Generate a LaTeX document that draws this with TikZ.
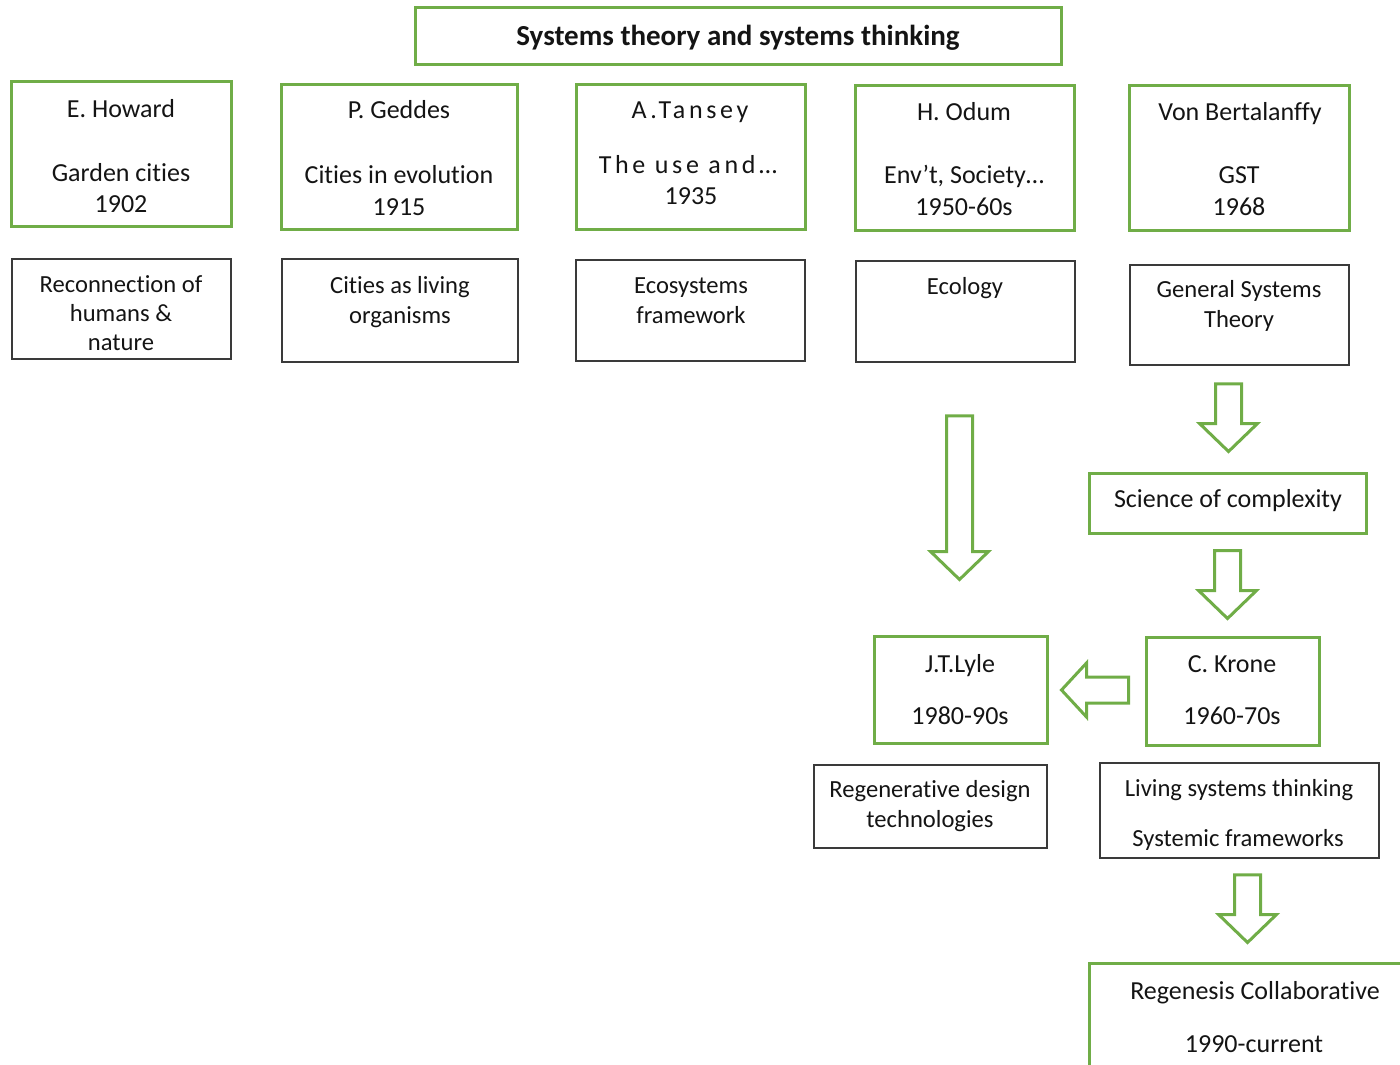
\documentclass[tikz,border=0pt]{standalone}
\usepackage{fontspec}
\setmainfont{Carlito}[Ligatures=NoCommon]
\usetikzlibrary{calc,fit}
\definecolor{leaf}{HTML}{70AD47}
\definecolor{ink}{HTML}{3A3A3A}
\definecolor{type}{HTML}{141414}

% vertical block arrow from #1 (top of shaft) to #2 (tip), same x
\newcommand\blockdown[2]{%
  \draw[blockarrow] ($(#1)+(-13,0)$) -- ($(#1)+(13,0)$) -- ($(#2)+(13,-28)$)
    -- ($(#2)+(29,-28)$) -- (#2) -- ($(#2)+(-29,-28)$) -- ($(#2)+(-13,-28)$) -- cycle;}
% horizontal block arrow pointing left, from #1 (shaft end) to #2 (tip), same y
\newcommand\blockleft[2]{%
  \draw[blockarrow] ($(#1)+(0,-13)$) -- ($(#1)+(0,13)$) -- ($(#2)+(25,13)$)
    -- ($(#2)+(25,27)$) -- (#2) -- ($(#2)+(25,-27)$) -- ($(#2)+(25,-13)$) -- cycle;}

\begin{document}
\begin{tikzpicture}[x=0.5pt,y=-0.5pt,
  gbox/.style={draw=leaf,line width=1.5pt,inner sep=0pt},
  kbox/.style={draw=ink,line width=0.75pt,inner sep=0pt},
  txt/.style={anchor=base,inner sep=0pt,text=type,font=\fontsize{13}{15}\selectfont},
  note/.style={txt,font=\fontsize{12.3}{15}\selectfont},
  spaced/.style={txt,font=\fontsize{13}{15}\selectfont\addfontfeature{LetterSpace=14}},
  headline/.style={txt,font=\fontsize{14.5}{17}\selectfont\bfseries},
  blockarrow/.style={draw=leaf,line width=1.5pt,fill=white,line join=miter}]
\useasboundingbox (0,0) rectangle (1400,1064);
\clip (0,0) rectangle (1400,1064);

% title
\node[gbox,fit={(415,8) (1061,65)}] (title) {};
\node[headline] (titleT) at (738,46) {Systems theory and systems thinking};

% people
\node[gbox,fit={(11,82) (231,226)}] (howard) {};
\node[txt] (howard1) at (121,118) {E. Howard};
\node[txt] (howard2) at (121,182) {Garden cities};
\node[txt] (howard3) at (121,213) {1902};

\node[gbox,fit={(281,85) (517,229)}] (geddes) {};
\node[txt] (geddes1) at (399,119) {P. Geddes};
\node[txt] (geddes2) at (399,184) {Cities in evolution};
\node[txt] (geddes3) at (399,215) {1915};

\node[gbox,fit={(576,85) (805,229)}] (tansey) {};
\node[spaced] (tansey1) at (690,119) {A.Tansey};
\node[spaced] (tansey2) at (688,174) {The use and…};
\node[txt] (tansey3) at (691,205) {1935};

\node[gbox,fit={(855,86) (1074,230)}] (odum) {};
\node[txt] (odum1) at (964,121) {H. Odum};
\node[txt] (odum2) at (964,184) {Env’t, Society…};
\node[txt] (odum3) at (964,215) {1950-60s};

\node[gbox,fit={(1129,86) (1349,230)}] (bert) {};
\node[txt] (bert1) at (1240,121) {Von Bertalanffy};
\node[txt] (bert2) at (1239,184) {GST};
\node[txt] (bert3) at (1239,215) {1968};

% ideas
\node[kbox,fit={(12,259) (231,359)}] (nature) {};
\node[note] (nature1) at (121,292) {Reconnection of};
\node[note] (nature2) at (121,321) {humans \&};
\node[note] (nature3) at (121,350) {nature};

\node[kbox,fit={(282,259) (518,362)}] (organisms) {};
\node[note] (organisms1) at (400,293) {Cities as living};
\node[note] (organisms2) at (400,323) {organisms};

\node[kbox,fit={(576,260) (805,361)}] (ecosys) {};
\node[note] (ecosys1) at (691,293) {Ecosystems};
\node[note] (ecosys2) at (691,323) {framework};

\node[kbox,fit={(856,261) (1075,362)}] (ecology) {};
\node[note] (ecology1) at (965,294) {Ecology};

\node[kbox,fit={(1130,265) (1349,365)}] (gst) {};
\node[note] (gst1) at (1239,297) {General Systems};
\node[note] (gst2) at (1239,327) {Theory};

% lower chain
\node[gbox,fit={(1089,473) (1366,533)}] (complex) {};
\node[txt] (complex1) at (1228,507) {Science of complexity};

\node[gbox,fit={(874,636) (1047,743)}] (lyle) {};
\node[txt] (lyle1) at (960,672) {J.T.Lyle};
\node[txt] (lyle2) at (960,724) {1980-90s};

\node[gbox,fit={(1146,637) (1319,745)}] (krone) {};
\node[txt] (krone1) at (1232,672) {C. Krone};
\node[txt] (krone2) at (1232,724) {1960-70s};

\node[kbox,fit={(814,765) (1047,848)}] (regen) {};
\node[note] (regen1) at (930,797) {Regenerative design};
\node[note] (regen2) at (930,827) {technologies};

\node[kbox,fit={(1100,763) (1379,858)}] (living) {};
\node[note] (living1) at (1239,796) {Living systems thinking};
\node[note] (living2) at (1238,846) {Systemic frameworks};

\node[gbox,fit={(1089,963) (1420,1090)}] (regenesis) {};
\node[txt] (regenesis1) at (1255,999) {Regenesis Collaborative};
\node[txt] (regenesis2) at (1254,1052) {1990-current};

% connectors
\coordinate (s1) at ($(gst.south)+(-11,18)$);
\coordinate (e1) at ($(s1 |- complex.north)+(0,-20)$);
\blockdown{s1}{e1}

\coordinate (s2) at ($(complex.south)+(0,16)$);
\coordinate (e2) at ($(s2 |- krone.north)+(0,-17)$);
\blockdown{s2}{e2}

\coordinate (s3) at ($(ecology.south)+(-6,53)$);
\coordinate (e3) at ($(s3 |- lyle.north)+(0,-55)$);
\blockdown{s3}{e3}

\coordinate (s4) at ($(krone.west)+(-16,-1)$);
\coordinate (e4) at ($(lyle.east |- s4)+(13,0)$);
\blockleft{s4}{e4}

\coordinate (s5) at ($(living.south)+(8,16)$);
\coordinate (e5) at ($(s5 |- regenesis.north)+(0,-19)$);
\blockdown{s5}{e5}
\end{tikzpicture}
\end{document}
